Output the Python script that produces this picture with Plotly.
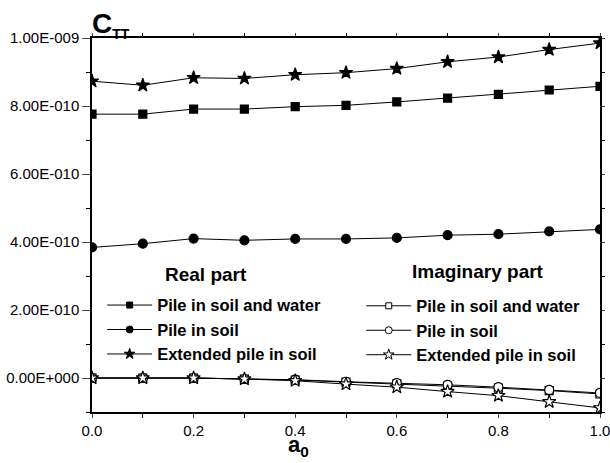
import plotly.graph_objects as go

a0 = [0.0, 0.1, 0.2, 0.3, 0.4, 0.5, 0.6, 0.7, 0.8, 0.9, 1.0]

re_soil_water = [7.76e-10, 7.76e-10, 7.91e-10, 7.91e-10, 7.98e-10, 8.02e-10, 8.12e-10, 8.23e-10, 8.34e-10, 8.47e-10, 8.58e-10]
re_soil = [3.84e-10, 3.95e-10, 4.10e-10, 4.05e-10, 4.09e-10, 4.09e-10, 4.12e-10, 4.20e-10, 4.23e-10, 4.31e-10, 4.37e-10]
re_extended = [8.73e-10, 8.61e-10, 8.83e-10, 8.81e-10, 8.92e-10, 8.98e-10, 9.10e-10, 9.30e-10, 9.44e-10, 9.66e-10, 9.85e-10]

im_soil_water = [0.0, 0.0, 0.0, -0.03e-10, -0.06e-10, -0.12e-10, -0.17e-10, -0.24e-10, -0.30e-10, -0.37e-10, -0.47e-10]
im_soil = [0.0, 0.0, 0.0, -0.03e-10, -0.05e-10, -0.11e-10, -0.15e-10, -0.20e-10, -0.27e-10, -0.35e-10, -0.44e-10]
im_extended = [0.0, 0.0, 0.0, -0.03e-10, -0.08e-10, -0.18e-10, -0.27e-10, -0.40e-10, -0.52e-10, -0.70e-10, -0.88e-10]

series_names = ["Pile in soil and water", "Pile in soil", "Extended pile in soil"]

y_tickvals = [0, 2e-10, 4e-10, 6e-10, 8e-10, 1e-9]
y_ticktext = ["0.00E+000", "2.00E-010", "4.00E-010", "6.00E-010", "8.00E-010", "1.00E-009"]
x_tickvals = [0.0, 0.2, 0.4, 0.6, 0.8, 1.0]
x_ticktext = ["0.0", "0.2", "0.4", "0.6", "0.8", "1.0"]

FONT = "Liberation Sans, Arial, sans-serif"
TICKFONT = dict(family="Liberation Sans", size=15, color="black")
fig = go.Figure()

symbols = ["square", "circle", "star"]
plot_sizes = [8, 9, 10]
legend_sizes = [6, 7, 8]

groups = [
    ([re_soil_water, re_soil, re_extended], "black", "legend", "re"),
    ([im_soil_water, im_soil, im_extended], "white", "legend2", "im"),
]
for ys, fill, leg, tag in groups:
    for y, name, sym, ps in zip(ys, series_names, symbols, plot_sizes):
        fig.add_trace(go.Scatter(
            x=a0, y=y, name=name, mode="lines+markers", showlegend=False,
            legendgroup=tag + name,
            line=dict(color="black", width=1),
            marker=dict(symbol=sym, size=ps, color=fill, line=dict(color="black", width=1.2)),
        ))
    for name, sym, ls in zip(series_names, symbols, legend_sizes):
        fig.add_trace(go.Scatter(
            x=[None], y=[None], name="<b>" + name + "</b>", mode="lines+markers", legend=leg,
            legendgroup=tag + name,
            line=dict(color="black", width=1),
            marker=dict(symbol=sym, size=ls, color=fill, line=dict(color="black", width=1)),
        ))

yr = [-1e-10, 1e-9]
xr = [0, 1]
fig.update_layout(
    width=610, height=463,
    margin=dict(l=92, r=10, t=38, b=51, autoexpand=False),
    paper_bgcolor="white", plot_bgcolor="white",
    font=dict(family=FONT, color="black", size=15),
    xaxis=dict(range=xr, tickvals=x_tickvals, ticktext=x_ticktext, automargin=False,
               ticks="outside", ticklen=4, tickwidth=1.2, linecolor="black", linewidth=1.5,
               showgrid=False, zeroline=False, ticklabeloverflow="allow",
               minor=dict(dtick=0.1, tick0=0, ticks="outside", ticklen=4, tickcolor="black"),
               tickfont=TICKFONT),
    yaxis=dict(range=yr, tickvals=y_tickvals, ticktext=y_ticktext, automargin=False,
               ticks="outside", ticklen=8, tickwidth=1.2, linecolor="black", linewidth=1.5,
               showgrid=False, zeroline=False, ticklabeloverflow="allow",
               minor=dict(dtick=1e-10, tick0=0, ticks="outside", ticklen=4, tickcolor="black"),
               tickfont=TICKFONT),
    xaxis2=dict(range=xr, overlaying="x", side="top", tickvals=x_tickvals, showticklabels=False,
                ticks="outside", ticklen=3, linecolor="black", linewidth=1.5, showgrid=False,
                zeroline=False, showline=True, automargin=False,
                minor=dict(dtick=0.1, tick0=0, ticks="outside", ticklen=3, tickcolor="black")),
    yaxis2=dict(range=yr, overlaying="y", side="right", tickvals=y_tickvals, showticklabels=False,
                ticks="outside", ticklen=3, linecolor="black", linewidth=1.5, showgrid=False,
                zeroline=False, showline=True, automargin=False,
                minor=dict(dtick=1e-10, tick0=0, ticks="outside", ticklen=3, tickcolor="black")),
    legend=dict(x=0.02, y=0.332, xanchor="left", yanchor="top", bgcolor="rgba(0,0,0,0)",
                font=dict(size=16.5, family=FONT), itemwidth=45, tracegroupgap=0,
                itemclick=False, itemdoubleclick=False),
    legend2=dict(x=0.53, y=0.330, xanchor="left", yanchor="top", bgcolor="rgba(0,0,0,0)",
                 font=dict(size=16.5, family=FONT), itemwidth=45, tracegroupgap=0,
                 itemclick=False, itemdoubleclick=False),
    showlegend=True,
)

# dummy trace to activate the mirror axes
fig.add_trace(go.Scatter(x=[None], y=[None], xaxis="x2", yaxis="y2", showlegend=False, hoverinfo="skip"))

def px_to_paper_y(py):
    return (412.3 - py) / 374.0

def px_to_paper_x(px):
    return (px - 92.0) / 508.0

fig.add_annotation(text="<b>Real part</b>", xref="paper", yref="paper",
                   x=px_to_paper_x(206), y=px_to_paper_y(275), xanchor="center", yanchor="middle",
                   showarrow=False, font=dict(size=19, family=FONT))
fig.add_annotation(text="<b>Imaginary part</b>", xref="paper", yref="paper",
                   x=px_to_paper_x(478), y=px_to_paper_y(272), xanchor="center", yanchor="middle",
                   showarrow=False, font=dict(size=19, family=FONT))

fig.add_annotation(text="<b>C<sub><span style='font-size:14px'>TT</span></sub></b>", xref="paper", yref="paper", x=0.0, y=1.0,
                   xanchor="left", yanchor="bottom", showarrow=False, font=dict(size=28, family=FONT), xshift=-2, yshift=-6)
fig.add_annotation(text="<b>a<sub>0</sub></b>", xref="paper", yref="paper", x=px_to_paper_x(298), y=0,
                   xanchor="center", yanchor="top", showarrow=False, font=dict(size=22, family=FONT), yshift=-18)

fig.write_html("out.html")
